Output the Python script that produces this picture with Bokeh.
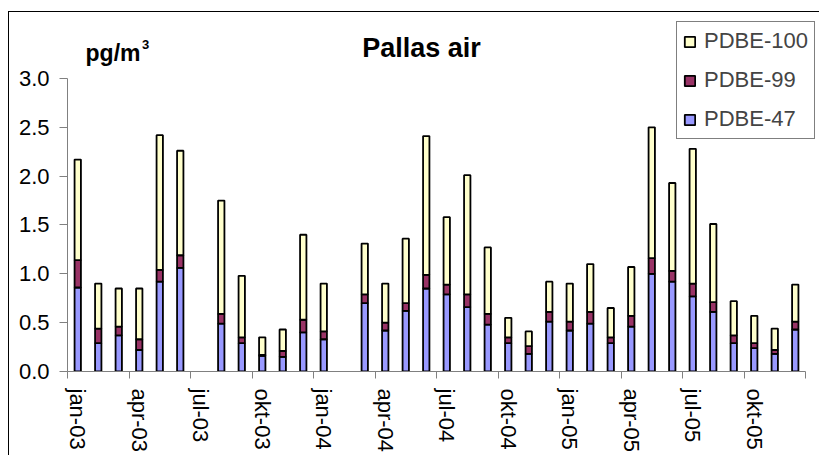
from bokeh.plotting import figure
from bokeh.models import (ColumnDataSource, Range1d, FixedTicker, Legend, LegendItem, Label)
from bokeh.embed import file_html
from bokeh.resources import INLINE

# Monthly samples jan-03 .. dec-05 (None = no sample that month)
months = ["jan-03", "feb-03", "mar-03", "apr-03", "maj-03", "jun-03",
          "jul-03", "aug-03", "sep-03", "okt-03", "nov-03", "dec-03",
          "jan-04", "feb-04", "mar-04", "apr-04", "maj-04", "jun-04",
          "jul-04", "aug-04", "sep-04", "okt-04", "nov-04", "dec-04",
          "jan-05", "feb-05", "mar-05", "apr-05", "maj-05", "jun-05",
          "jul-05", "aug-05", "sep-05", "okt-05", "nov-05", "dec-05"]
pdbe47 = [0.86, 0.29, 0.37, 0.22, 0.92, 1.06, None, 0.49, 0.29, 0.16, 0.15, 0.40,
          0.33, None, 0.70, 0.42, 0.62, 0.85, 0.79, 0.66, 0.48, 0.29, 0.18, 0.51,
          0.42, 0.49, 0.29, 0.46, 1.00, 0.92, 0.77, 0.61, 0.29, 0.24, 0.18, 0.43]
pdbe99 = [0.28, 0.15, 0.09, 0.11, 0.12, 0.13, None, 0.10, 0.06, 0.01, 0.06, 0.13,
          0.08, None, 0.09, 0.08, 0.08, 0.14, 0.10, 0.13, 0.11, 0.06, 0.08, 0.10,
          0.09, 0.12, 0.06, 0.11, 0.16, 0.11, 0.13, 0.10, 0.08, 0.05, 0.04, 0.08]
pdbe100 = [1.03, 0.46, 0.39, 0.52, 1.38, 1.07, None, 1.16, 0.63, 0.18, 0.22, 0.87,
           0.49, None, 0.52, 0.40, 0.66, 1.42, 0.69, 1.22, 0.68, 0.20, 0.15, 0.31,
           0.39, 0.49, 0.30, 0.50, 1.34, 0.90, 1.38, 0.80, 0.35, 0.28, 0.22, 0.38]
quarter_labels = ["jan-03", "apr-03", "jul-03", "okt-03", "jan-04", "apr-04",
                  "jul-04", "okt-04", "jan-05", "apr-05", "jul-05", "okt-05"]

colors = {"PDBE-47": "#9999FF", "PDBE-99": "#993366", "PDBE-100": "#FFFFCC"}
FONT = "Liberation Sans"

keep = [i for i in range(len(months)) if pdbe47[i] is not None]
source = ColumnDataSource(dict(
    x=[i + 0.5 for i in keep],
    month=[months[i] for i in keep],
    p47=[pdbe47[i] for i in keep],
    p99=[pdbe99[i] for i in keep],
    p100=[pdbe100[i] for i in keep],
))

# The plot area reaches up to the chart border so the title and legend fit inside it;
# the axes themselves are bounded to the data extent.
p = figure(width=811, height=444, frame_width=753, frame_height=359,
           min_border_left=58, min_border_right=0, min_border_top=0,
           min_border_bottom=85, output_backend="svg", toolbar_location=None,
           x_range=Range1d(0, 36.7317), y_range=Range1d(0, 3.6757),
           margin=(11, 0, 0, 8),
           styles={"border-left": "1px solid black", "border-top": "1px solid black"})
p.outline_line_color = None
p.background_fill_color = "white"
p.border_fill_color = "white"
p.xgrid.visible = False
p.ygrid.visible = False

renderers = p.vbar_stack(["p47", "p99", "p100"], x="x", width=0.31, source=source,
                         color=[colors["PDBE-47"], colors["PDBE-99"], colors["PDBE-100"]],
                         line_color="black", line_width=1.8)
for r in renderers:
    r.glyph.line_color = "black"

# x axis: quarter boundaries as tick marks, labels centred on the month
xa = p.xaxis[0]
xa.bounds = (0, 36)
xa.ticker = FixedTicker(ticks=[3 * k + 0.5 for k in range(12)],
                        minor_ticks=[3 * k for k in range(13)])
xa.major_label_overrides = {3 * k + 0.5: lab for k, lab in enumerate(quarter_labels)}
xa.major_label_orientation = "vertical"
xa.major_tick_line_color = None
xa.major_tick_out = 7
xa.major_tick_in = 0
xa.minor_tick_line_color = "#808080"
xa.minor_tick_out = 7
xa.minor_tick_in = 0
xa.axis_line_color = "#808080"
xa.major_label_standoff = 10
xa.major_label_text_font = FONT
xa.major_label_text_font_size = "22px"
xa.major_label_text_color = "black"

ya = p.yaxis[0]
ya.bounds = (0, 3)
ya.ticker = FixedTicker(ticks=[0, 0.5, 1.0, 1.5, 2.0, 2.5, 3.0])
ya.major_label_overrides = {0: "0.0", 0.5: "0.5", 1.0: "1.0", 1.5: "1.5",
                            2.0: "2.0", 2.5: "2.5", 3.0: "3.0"}
ya.minor_tick_line_color = None
ya.major_tick_out = 8
ya.major_tick_in = 0
ya.major_tick_line_color = "#808080"
ya.axis_line_color = "#808080"
ya.major_label_standoff = 10
ya.major_label_text_font = FONT
ya.major_label_text_font_size = "22px"
ya.major_label_text_color = "black"

# Title and unit label (pg/m with a raised 3)
p.add_layout(Label(x=17.27, y=3.317, text="Pallas air", text_align="center",
                   text_baseline="alphabetic", text_font=FONT, text_font_style="bold",
                   text_font_size="27px", text_color="black"))
p.add_layout(Label(x=0.88, y=3.256, text="pg/m", text_align="left",
                   text_baseline="alphabetic", text_font=FONT, text_font_style="bold",
                   text_font_size="23px", text_color="black"))
p.add_layout(Label(x=3.63, y=3.35, text="3", text_align="left",
                   text_baseline="alphabetic", text_font=FONT, text_font_style="bold",
                   text_font_size="13px", text_color="black"))

legend = Legend(items=[
    LegendItem(label="PDBE-100", renderers=[renderers[2]]),
    LegendItem(label="PDBE-99", renderers=[renderers[1]]),
    LegendItem(label="PDBE-47", renderers=[renderers[0]]),
], location=(609, 232))
legend.label_text_font = FONT
legend.label_text_font_size = "22px"
legend.label_height = 25
legend.glyph_width = 13
legend.glyph_height = 13
legend.label_standoff = 8
legend.spacing = 13
legend.padding = 6
legend.margin = 0
legend.border_line_color = "black"
legend.border_line_width = 1
legend.background_fill_alpha = 1
p.add_layout(legend)

open("out.html", "w").write(file_html(p, INLINE))
